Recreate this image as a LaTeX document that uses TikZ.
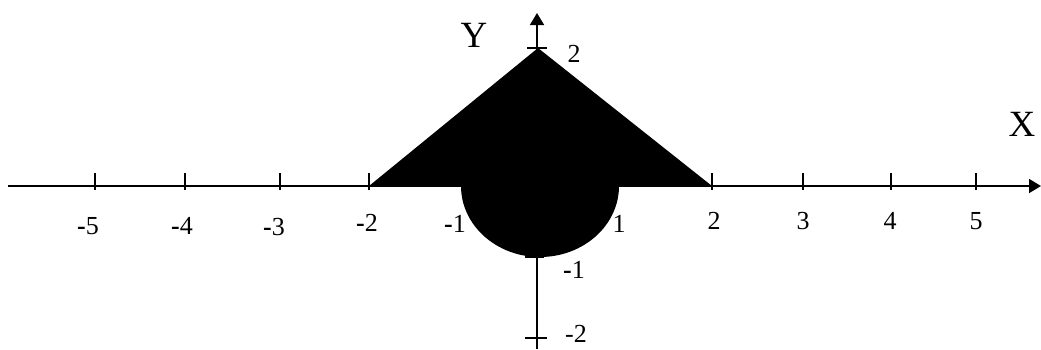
\documentclass[tikz,border=0pt]{standalone}
\usepackage{fontspec}
\setmainfont{Liberation Serif}
\usetikzlibrary{arrows.meta}
\newcommand{\bm}{{\bfseries -}}
\begin{document}
\begin{tikzpicture}[x=1pt,y=-1pt,
  axisline/.style={line width=1.6pt,-{Triangle[length=12pt,width=14pt]}},
  tickmark/.style={line width=1.6pt},
  lab/.style={font=\fontsize{26}{30}\selectfont, inner sep=0pt},
  biglab/.style={font=\fontsize{37}{42}\selectfont, inner sep=0pt},
  region/.style={fill=black}]
\useasboundingbox (0,0) rectangle (1041,349);
% filled region
\fill[region] (369,186) -- (538,48) -- (712,186) -- cycle;
\fill[region] (461,186) arc[start angle=180,end angle=0,x radius=79,y radius=71] -- cycle;
% axes
\coordinate (xs) at (8,186);
\coordinate (xe) at (1041,186);
\coordinate (ys) at (537,349);
\coordinate (ye) at (537,13);
\draw[axisline] (xs) -- (xe);
\draw[axisline] (ys) -- (ye);
% x ticks
\foreach \t in {95,185,280,369,712,803,891,976}
  \draw[tickmark] (\t,173) -- (\t,190);
% y ticks
\draw[tickmark] (527,48) -- (547,48);
\draw[tickmark] (525,257) -- (544,257);
\draw[tickmark] (525,338) -- (547,338);
% labels
\node[lab] (lm5) at (88,226) {\bm5};
\node[lab] (lm4) at (182,226) {\bm4};
\node[lab] (lm3) at (274,227) {\bm3};
\node[lab] (lm2) at (367,223) {\bm2};
\node[lab] (lm1) at (455,224) {\bm1};
\node[lab] (lp1) at (619,224) {1};
\node[lab] (lp2) at (714,221) {2};
\node[lab] (lp3) at (803,221) {3};
\node[lab] (lp4) at (890,221) {4};
\node[lab] (lp5) at (976,221) {5};
\node[lab] (ly2) at (574,54) {2};
\node[lab] (lym1) at (574,270) {\bm1};
\node[lab] (lym2) at (576,334) {-2};
\node[biglab] (ylab) at (474,35) {Y};
\node[biglab] (xlab) at (1022,124) {X};
\end{tikzpicture}
\end{document}
